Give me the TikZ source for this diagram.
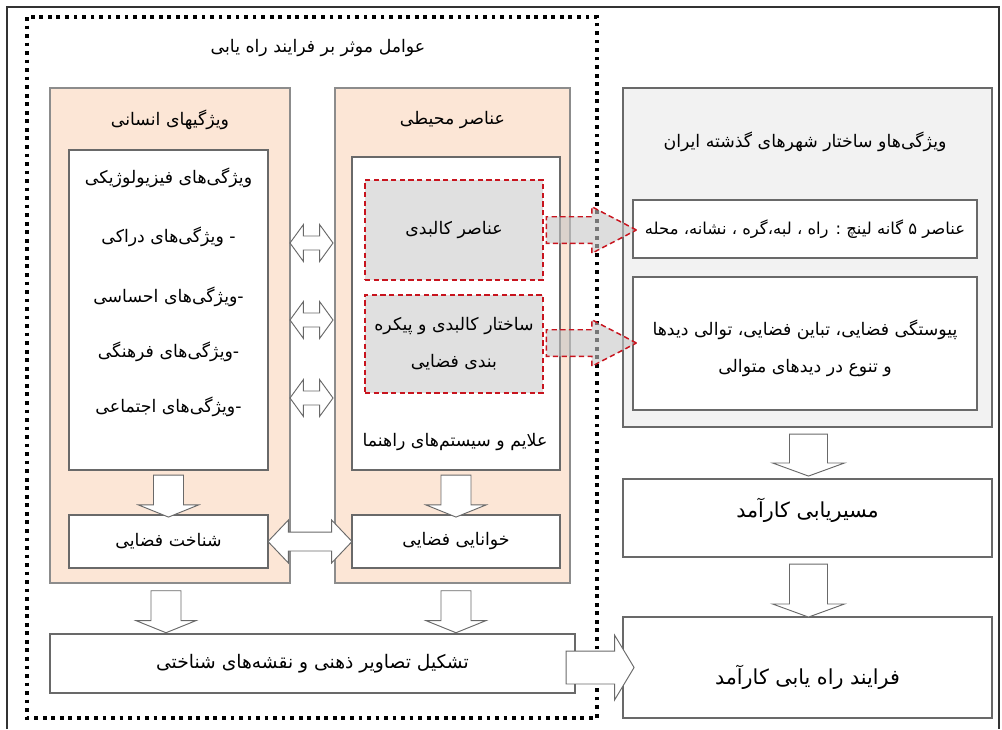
\documentclass[tikz,border=0pt]{standalone}
\usepackage{fontspec}
\usepackage{xcolor}
\usepackage{tikz}
\usetikzlibrary{arrows.meta,positioning,shapes.arrows,calc}
\TeXXeTstate=1
\newfontfamily\fa[Script=Arabic]{DejaVu Sans}
\newcommand{\rl}[1]{\beginR #1\endR}

\definecolor{peach}{RGB}{252,230,214}
\definecolor{paneledge}{RGB}{140,140,140}
\definecolor{boxedge}{RGB}{105,105,105}
\definecolor{iranfill}{RGB}{242,242,242}
\definecolor{dashred}{RGB}{200,20,30}
\definecolor{physfill}{RGB}{224,224,224}

\begin{document}
\begin{tikzpicture}[x=0.75pt,y=-0.75pt,>=Latex,
  font=\fa\fontsize{13}{15}\selectfont,
  panel/.style={draw=paneledge,line width=0.9pt,fill=peach},
  box/.style={draw=boxedge,line width=0.9pt,fill=white,align=center},
  redbox/.style={draw=dashred,line width=1.1pt,dash pattern=on 4pt off 2.5pt,fill=physfill,align=center},
  twoline/.style={font=\fa\fontsize{13}{28}\selectfont},
  bigtext/.style={font=\fa\fontsize{15.5}{18}\selectfont},
  downblock/.style={single arrow,draw=boxedge,fill=white,line width=0.7pt,rotate=-90,anchor=tail,
    inner xsep=0pt,inner ysep=10.9pt,single arrow head extend=11.25pt,single arrow tip angle=136,minimum height=31.5pt},
  bigdown/.style={downblock,inner ysep=13.9pt,single arrow head extend=12.75pt,single arrow tip angle=140},
  twoway/.style={double arrow,draw=boxedge,fill=white,line width=0.7pt,inner xsep=0pt,inner ysep=4.9pt,
    double arrow head extend=8.6pt,double arrow tip angle=108,minimum height=32.25pt},
  redarrow/.style={single arrow,draw=dashred,line width=1.1pt,dash pattern=on 4pt off 2.5pt,fill=gray!45,fill opacity=0.6,
    anchor=tail,inner xsep=0pt,inner ysep=9.4pt,single arrow head extend=7.5pt,single arrow tip angle=55,minimum height=67.5pt}
]
\useasboundingbox (0,0) rectangle (1002,729);
% frames
\draw[line width=1.5pt,black!80] (7,729) -- (7,7) -- (999,7) -- (999,729);
\draw[line width=2.8pt,dash pattern=on 2.8pt off 3.6pt] (27,17) rectangle (597,718);
\node (ftitle) at (318,48) {\rl{عوامل موثر بر فرایند راه یابی}};

% human features
\node[panel,minimum width=180pt,minimum height=371.25pt] (human) at (170,335.5) {};
\node (htitle) at (170,120) {\rl{ویژگیهای انسانی}};
\node[box,minimum width=149.25pt,minimum height=240pt] (hlist) at (168.5,310) {};
\node (h0) at (168.5,178) {\rl{ویژگی‌های فیزیولوژیکی}};
\node (h1) at (168.5,237) {\rl{- ویژگی‌های دراکی}};
\node (h2) at (168.5,297) {\rl{-ویژگی‌های احساسی}};
\node (h3) at (168.5,352) {\rl{-ویژگی‌های فرهنگی}};
\node (h4) at (168.5,407) {\rl{-ویژگی‌های اجتماعی}};
\node[box,minimum width=149.25pt,minimum height=39.75pt] (cogn) at (168.5,541.5) {\rl{شناخت فضایی}};

% environment
\node[panel,minimum width=176.25pt,minimum height=371.25pt] (env) at (452.5,335.5) {};
\node (etitle) at (452.5,120) {\rl{عناصر محیطی}};
\node[box,minimum width=156pt,minimum height=234.75pt] (elist) at (456,313.5) {};
\node[redbox,minimum width=133.5pt,minimum height=75pt] (phys) at (454,230) {\rl{عناصر کالبدی}};
\node[redbox,twoline,minimum width=133.5pt,minimum height=73.5pt] (struct) at (454,344) {\rl{ساختار کالبدی و پیکره}\\\rl{بندی فضایی}};
\node (signs) at (455,442) {\rl{علایم و  سیستم‌های راهنما}};
\node[box,minimum width=156pt,minimum height=39.75pt] (legib) at (456,541.5) {\rl{خوانایی فضایی}};

% mental images
\node[box,minimum width=393.75pt,minimum height=44.25pt,font=\fa\fontsize{14}{16}\selectfont] (mental) at (312.5,663.5) {\rl{تشکیل تصاویر ذهنی و نقشه‌های شناختی}};

% past Iranian cities
\node[draw=boxedge,line width=0.9pt,fill=iranfill,minimum width=276.75pt,minimum height=254.25pt] (iran) at (807.5,257.5) {};
\node (ititle) at (805,142) {\rl{ویژگی‌هاو ساختار شهرهای گذشته ایران}};
\node[box,minimum width=258pt,minimum height=43.5pt,font=\fa\fontsize{12.3}{14}\selectfont] (lynch) at (805,229) {\rl{عناصر ۵ گانه لینچ : راه ، لبه،گره ، نشانه، محله}};
\node[box,minimum width=258pt,minimum height=99.75pt] (seq) at (805,343.5) {};
\node[twoline,align=center] (seqtxt) at ([yshift=-3.5pt]seq.center) {\rl{پیوستگی فضایی،  تباین فضایی، توالی دیدها}\\\rl{و تنوع در دیدهای متوالی}};
\node[box,minimum width=276.75pt,minimum height=58.5pt] (route) at (807.5,518) {};
\node[bigtext] (routetxt) at ([yshift=6pt]route.center) {\rl{مسیریابی کارآمد}};
\node[box,minimum width=276.75pt,minimum height=75.75pt] (wayf) at (807.5,667.5) {};
\node[bigtext] (wayftxt) at ([yshift=-7.5pt]wayf.center) {\rl{فرایند راه یابی کارآمد}};

% block arrows
\node[downblock] (ah) at ([yshift=-3pt]hlist.south) {};
\node[downblock] (ae) at ([yshift=-3pt]elist.south) {};
\node[downblock] (bh) at ([xshift=-3pt,yshift=-5pt]human.south) {};
\node[downblock] (be) at ([xshift=2.6pt,yshift=-5pt]env.south) {};
\node[bigdown] (ai) at ([xshift=0.75pt,yshift=-4.5pt]iran.south) {};
\node[bigdown,minimum height=39.75pt] (ar) at ([xshift=0.75pt,yshift=-4.5pt]route.south) {};
\node[downblock,rotate=90,inner ysep=12pt,single arrow head extend=12pt,single arrow tip angle=118,minimum height=51pt] (am) at ([xshift=-7.5pt,yshift=-3pt]mental.east) {};
\foreach \y [count=\i] in {243,320,398}
  \node[twoway] (tw\i) at (311.5,\y) {};
\node[twoway,inner ysep=6.75pt,double arrow head extend=9pt,double arrow tip angle=93,minimum height=63pt] (twc) at ($(cogn.east)!0.5!(legib.west)$) {};
\node[redarrow] (rp) at ([xshift=1.5pt]phys.east) {};
\node[redarrow] (rs) at ([xshift=1.5pt,yshift=0.75pt]struct.east) {};
\end{tikzpicture}
\end{document}
